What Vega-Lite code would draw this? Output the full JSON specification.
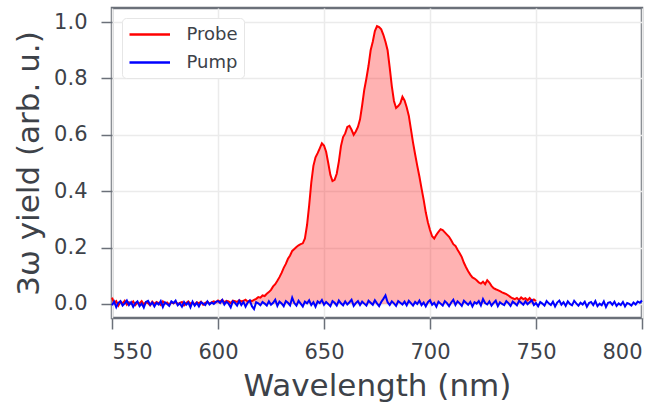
{
"$schema": "https://vega.github.io/schema/vega-lite/v6.json",
"autosize": {"type": "none"},
"width": 530,
"height": 310,
"padding": {"left": 112, "top": 8, "right": 23, "bottom": 87},
"datasets": {
"probe": [
{"w":550,"y":0.022},{"w":551,"y":0.004},{"w":552,"y":0.010},{"w":553,"y":-0.006},{"w":554,"y":0.008},{"w":555,"y":0.002},{"w":556,"y":0.011},{"w":557,"y":-0.003},{"w":558,"y":0.006},{"w":559,"y":0.001},
{"w":560,"y":0.009},{"w":561,"y":-0.004},{"w":562,"y":0.005},{"w":563,"y":0.002},{"w":564,"y":0.010},{"w":565,"y":-0.002},{"w":566,"y":0.006},{"w":567,"y":0.003},{"w":568,"y":-0.005},{"w":569,"y":0.008},
{"w":570,"y":0.000},{"w":571,"y":0.007},{"w":572,"y":0.003},{"w":573,"y":-0.004},{"w":574,"y":0.009},{"w":575,"y":0.001},{"w":576,"y":0.005},{"w":577,"y":-0.003},{"w":578,"y":0.006},{"w":579,"y":0.002},
{"w":580,"y":0.008},{"w":581,"y":-0.001},{"w":582,"y":0.004},{"w":583,"y":0.007},{"w":584,"y":-0.005},{"w":585,"y":0.003},{"w":586,"y":0.009},{"w":587,"y":0.000},{"w":588,"y":0.005},{"w":589,"y":-0.002},
{"w":590,"y":0.006},{"w":591,"y":0.002},{"w":592,"y":0.008},{"w":593,"y":-0.003},{"w":594,"y":0.004},{"w":595,"y":0.007},{"w":596,"y":0.001},{"w":597,"y":0.005},{"w":598,"y":0.009},{"w":599,"y":0.006},
{"w":600,"y":0.012},{"w":601,"y":0.008},{"w":602,"y":0.014},{"w":603,"y":0.006},{"w":604,"y":0.011},{"w":605,"y":0.009},{"w":606,"y":0.003},{"w":607,"y":0.012},{"w":608,"y":0.010},{"w":609,"y":0.007},
{"w":610,"y":0.013},{"w":611,"y":0.009},{"w":612,"y":0.011},{"w":613,"y":0.015},{"w":614,"y":0.008},{"w":615,"y":0.012},{"w":616,"y":0.010},{"w":617,"y":0.014},
{"w":618,"y":0.018},{"w":619,"y":0.024},{"w":620,"y":0.022},{"w":621,"y":0.030},{"w":622,"y":0.028},{"w":623,"y":0.036},{"w":624,"y":0.042},{"w":625,"y":0.050},{"w":626,"y":0.062},{"w":627,"y":0.070},
{"w":628,"y":0.082},{"w":629,"y":0.095},{"w":630,"y":0.110},{"w":631,"y":0.128},{"w":632,"y":0.142},{"w":633,"y":0.160},{"w":634,"y":0.172},{"w":635,"y":0.188},{"w":636,"y":0.195},{"w":637,"y":0.202},
{"w":638,"y":0.208},{"w":639,"y":0.212},{"w":640,"y":0.215},{"w":641,"y":0.232},{"w":642,"y":0.280},{"w":643,"y":0.350},{"w":644,"y":0.430},{"w":645,"y":0.490},{"w":646,"y":0.520},{"w":647,"y":0.535},
{"w":648,"y":0.552},{"w":649,"y":0.570},{"w":650,"y":0.562},{"w":651,"y":0.540},{"w":652,"y":0.500},{"w":653,"y":0.458},{"w":654,"y":0.436},{"w":655,"y":0.440},{"w":656,"y":0.462},{"w":657,"y":0.505},
{"w":658,"y":0.560},{"w":659,"y":0.592},{"w":660,"y":0.605},{"w":661,"y":0.628},{"w":662,"y":0.632},{"w":663,"y":0.618},{"w":664,"y":0.600},{"w":665,"y":0.612},{"w":666,"y":0.628},{"w":667,"y":0.655},
{"w":668,"y":0.705},{"w":669,"y":0.760},{"w":670,"y":0.800},{"w":671,"y":0.845},{"w":672,"y":0.900},{"w":673,"y":0.930},{"w":674,"y":0.968},{"w":675,"y":0.986},{"w":676,"y":0.982},{"w":677,"y":0.974},
{"w":678,"y":0.955},{"w":679,"y":0.930},{"w":680,"y":0.900},{"w":681,"y":0.838},{"w":682,"y":0.772},{"w":683,"y":0.720},{"w":684,"y":0.695},{"w":685,"y":0.702},{"w":686,"y":0.712},{"w":687,"y":0.735},
{"w":688,"y":0.722},{"w":689,"y":0.698},{"w":690,"y":0.668},{"w":691,"y":0.620},{"w":692,"y":0.572},{"w":693,"y":0.530},{"w":694,"y":0.490},{"w":695,"y":0.452},{"w":696,"y":0.410},{"w":697,"y":0.370},
{"w":698,"y":0.325},{"w":699,"y":0.290},{"w":700,"y":0.262},{"w":701,"y":0.240},{"w":702,"y":0.232},{"w":703,"y":0.245},{"w":704,"y":0.256},{"w":705,"y":0.265},{"w":706,"y":0.262},{"w":707,"y":0.254},
{"w":708,"y":0.246},{"w":709,"y":0.238},{"w":710,"y":0.226},{"w":711,"y":0.212},{"w":712,"y":0.206},{"w":713,"y":0.192},{"w":714,"y":0.180},{"w":715,"y":0.166},{"w":716,"y":0.146},{"w":717,"y":0.130},
{"w":718,"y":0.116},{"w":719,"y":0.104},{"w":720,"y":0.094},{"w":721,"y":0.090},{"w":722,"y":0.084},{"w":723,"y":0.076},{"w":724,"y":0.072},{"w":725,"y":0.079},{"w":726,"y":0.070},{"w":727,"y":0.084},
{"w":728,"y":0.076},{"w":729,"y":0.064},{"w":730,"y":0.056},{"w":731,"y":0.052},{"w":732,"y":0.049},{"w":733,"y":0.045},{"w":734,"y":0.041},{"w":735,"y":0.038},{"w":736,"y":0.035},{"w":737,"y":0.030},
{"w":738,"y":0.024},{"w":739,"y":0.020},{"w":740,"y":0.017},{"w":741,"y":0.021},{"w":742,"y":0.014},{"w":743,"y":0.023},{"w":744,"y":0.017},{"w":745,"y":0.020},{"w":746,"y":0.013},{"w":747,"y":0.021},
{"w":748,"y":0.011},{"w":749,"y":0.016},{"w":750,"y":0.010}
],
"pump": [
{"w":550,"y":-0.005},{"w":551,"y":0.008},{"w":552,"y":-0.012},{"w":553,"y":0.004},{"w":554,"y":0.010},{"w":555,"y":-0.006},{"w":556,"y":0.002},{"w":557,"y":0.012},{"w":558,"y":-0.004},{"w":559,"y":0.006},
{"w":560,"y":-0.010},{"w":561,"y":0.003},{"w":562,"y":0.009},{"w":563,"y":-0.008},{"w":564,"y":0.001},{"w":565,"y":-0.013},{"w":566,"y":0.007},{"w":567,"y":0.011},{"w":568,"y":-0.003},{"w":569,"y":0.005},
{"w":570,"y":-0.009},{"w":571,"y":0.004},{"w":572,"y":-0.002},{"w":573,"y":0.010},{"w":574,"y":-0.011},{"w":575,"y":0.006},{"w":576,"y":0.000},{"w":577,"y":-0.007},{"w":578,"y":0.009},{"w":579,"y":0.003},
{"w":580,"y":0.012},{"w":581,"y":-0.005},{"w":582,"y":0.002},{"w":583,"y":-0.010},{"w":584,"y":0.007},{"w":585,"y":-0.003},{"w":586,"y":0.005},{"w":587,"y":-0.012},{"w":588,"y":0.008},{"w":589,"y":-0.006},
{"w":590,"y":0.004},{"w":591,"y":-0.009},{"w":592,"y":0.006},{"w":593,"y":0.001},{"w":594,"y":-0.004},{"w":595,"y":0.009},{"w":596,"y":-0.002},{"w":597,"y":0.005},{"w":598,"y":0.000},{"w":599,"y":0.007},
{"w":600,"y":0.010},{"w":601,"y":0.003},{"w":602,"y":0.014},{"w":603,"y":-0.002},{"w":604,"y":0.008},{"w":605,"y":0.001},{"w":606,"y":-0.012},{"w":607,"y":0.009},{"w":608,"y":0.004},{"w":609,"y":-0.006},
{"w":610,"y":0.011},{"w":611,"y":-0.004},{"w":612,"y":0.007},{"w":613,"y":-0.010},{"w":614,"y":0.005},{"w":615,"y":0.012},{"w":616,"y":-0.008},{"w":617,"y":-0.018},{"w":618,"y":0.006},{"w":619,"y":0.002},
{"w":620,"y":-0.005},{"w":621,"y":0.007},{"w":622,"y":0.001},{"w":623,"y":-0.006},{"w":624,"y":0.009},{"w":625,"y":-0.003},{"w":626,"y":0.004},{"w":627,"y":0.015},{"w":628,"y":-0.007},{"w":629,"y":0.008},
{"w":630,"y":0.002},{"w":631,"y":-0.008},{"w":632,"y":0.010},{"w":633,"y":0.004},{"w":634,"y":-0.005},{"w":635,"y":0.022},{"w":636,"y":0.003},{"w":637,"y":-0.006},{"w":638,"y":0.011},{"w":639,"y":0.001},
{"w":640,"y":-0.009},{"w":641,"y":0.008},{"w":642,"y":0.002},{"w":643,"y":0.013},{"w":644,"y":-0.004},{"w":645,"y":0.006},{"w":646,"y":-0.010},{"w":647,"y":0.009},{"w":648,"y":0.003},{"w":649,"y":0.014},
{"w":650,"y":-0.003},{"w":651,"y":0.007},{"w":652,"y":0.000},{"w":653,"y":-0.008},{"w":654,"y":0.010},{"w":655,"y":0.004},{"w":656,"y":-0.006},{"w":657,"y":0.012},{"w":658,"y":0.002},{"w":659,"y":-0.005},
{"w":660,"y":0.009},{"w":661,"y":-0.002},{"w":662,"y":0.006},{"w":663,"y":0.015},{"w":664,"y":-0.007},{"w":665,"y":0.003},{"w":666,"y":0.010},{"w":667,"y":-0.004},{"w":668,"y":0.008},{"w":669,"y":0.001},
{"w":670,"y":-0.006},{"w":671,"y":0.011},{"w":672,"y":0.004},{"w":673,"y":-0.003},{"w":674,"y":0.013},{"w":675,"y":0.002},{"w":676,"y":-0.008},{"w":677,"y":0.007},{"w":678,"y":0.018},{"w":679,"y":0.030},
{"w":680,"y":0.006},{"w":681,"y":-0.004},{"w":682,"y":0.009},{"w":683,"y":0.002},{"w":684,"y":-0.007},{"w":685,"y":0.010},{"w":686,"y":0.004},{"w":687,"y":-0.002},{"w":688,"y":0.008},{"w":689,"y":-0.005},
{"w":690,"y":0.011},{"w":691,"y":0.003},{"w":692,"y":-0.006},{"w":693,"y":0.007},{"w":694,"y":0.000},{"w":695,"y":0.012},{"w":696,"y":-0.004},{"w":697,"y":0.005},{"w":698,"y":-0.009},{"w":699,"y":0.006},
{"w":700,"y":0.013},{"w":701,"y":-0.003},{"w":702,"y":0.004},{"w":703,"y":-0.010},{"w":704,"y":0.008},{"w":705,"y":0.001},{"w":706,"y":-0.006},{"w":707,"y":0.010},{"w":708,"y":0.003},{"w":709,"y":-0.008},
{"w":710,"y":0.005},{"w":711,"y":0.015},{"w":712,"y":-0.004},{"w":713,"y":0.009},{"w":714,"y":0.002},{"w":715,"y":-0.007},{"w":716,"y":0.011},{"w":717,"y":0.004},{"w":718,"y":-0.003},{"w":719,"y":0.007},
{"w":720,"y":-0.009},{"w":721,"y":0.006},{"w":722,"y":0.001},{"w":723,"y":0.010},{"w":724,"y":-0.005},{"w":725,"y":0.017},{"w":726,"y":0.003},{"w":727,"y":-0.002},{"w":728,"y":0.009},{"w":729,"y":-0.006},
{"w":730,"y":0.004},{"w":731,"y":0.012},{"w":732,"y":-0.008},{"w":733,"y":0.006},{"w":734,"y":0.000},{"w":735,"y":-0.004},{"w":736,"y":0.010},{"w":737,"y":0.003},{"w":738,"y":-0.007},{"w":739,"y":0.008},
{"w":740,"y":0.002},{"w":741,"y":-0.005},{"w":742,"y":0.011},{"w":743,"y":0.004},{"w":744,"y":-0.003},{"w":745,"y":0.009},{"w":746,"y":-0.001},{"w":747,"y":0.006},{"w":748,"y":0.013},{"w":749,"y":-0.004},
{"w":750,"y":0.003},{"w":751,"y":-0.008},{"w":752,"y":0.007},{"w":753,"y":0.001},{"w":754,"y":-0.006},{"w":755,"y":0.010},{"w":756,"y":0.002},{"w":757,"y":-0.004},{"w":758,"y":0.008},{"w":759,"y":-0.009},
{"w":760,"y":0.005},{"w":761,"y":0.012},{"w":762,"y":-0.003},{"w":763,"y":0.006},{"w":764,"y":-0.007},{"w":765,"y":0.009},{"w":766,"y":0.000},{"w":767,"y":-0.005},{"w":768,"y":0.011},{"w":769,"y":0.002},
{"w":770,"y":-0.006},{"w":771,"y":0.004},{"w":772,"y":-0.002},{"w":773,"y":0.008},{"w":774,"y":-0.010},{"w":775,"y":0.003},{"w":776,"y":0.007},{"w":777,"y":-0.004},{"w":778,"y":0.010},{"w":779,"y":-0.008},
{"w":780,"y":0.001},{"w":781,"y":-0.005},{"w":782,"y":0.009},{"w":783,"y":-0.011},{"w":784,"y":0.004},{"w":785,"y":0.006},{"w":786,"y":-0.003},{"w":787,"y":0.008},{"w":788,"y":-0.007},{"w":789,"y":0.002},
{"w":790,"y":-0.004},{"w":791,"y":0.007},{"w":792,"y":-0.009},{"w":793,"y":0.003},{"w":794,"y":0.000},{"w":795,"y":-0.006},{"w":796,"y":0.005},{"w":797,"y":-0.002},{"w":798,"y":0.008},{"w":799,"y":0.004},
{"w":800,"y":0.012}
]
},
"layer": [
{
"data": {"name": "probe"},
"mark": {"type": "area", "color": "#ff0000", "opacity": 0.3},
"encoding": {
"x": {"field": "w", "type": "quantitative"},
"y": {"field": "y", "type": "quantitative"},
"y2": {"datum": 0}
}
},
{
"data": {"name": "probe"},
"mark": {"type": "line", "strokeWidth": 2},
"encoding": {
"x": {"field": "w", "type": "quantitative"},
"y": {"field": "y", "type": "quantitative"},
"color": {"datum": "Probe"}
}
},
{
"data": {"name": "pump"},
"mark": {"type": "line", "strokeWidth": 2},
"encoding": {
"x": {"field": "w", "type": "quantitative", "scale": {"domain": [550, 800], "nice": false, "zero": false},
"axis": {"values": [550, 600, 650, 700, 750, 800], "title": "Wavelength (nm)", "titlePadding": 9, "labelPadding": 12}},
"y": {"field": "y", "type": "quantitative", "scale": {"domain": [-0.05, 1.05], "nice": false},
"axis": {"values": [0, 0.2, 0.4, 0.6, 0.8, 1.0], "format": ".1f", "title": "3ω yield (arb. u.)", "titlePadding": 8, "labelPadding": 14}},
"color": {"datum": "Pump", "type": "nominal",
"scale": {"domain": ["Probe", "Pump"], "range": ["#ff0000", "#0000ff"]},
"legend": {"title": null, "orient": "none", "legendX": 10, "legendY": 10}}
}
}
],
"config": {
"font": "DejaVu Sans",
"view": {"stroke": "#6b7079", "strokeWidth": 2.5},
"axis": {
"domain": false,
"grid": true,
"gridColor": "#ebebeb",
"gridWidth": 1.5,
"tickColor": "#6b7079",
"tickWidth": 1.5,
"tickSize": 11,
"labelFont": "DejaVu Sans",
"labelFontSize": 21,
"labelColor": "#3d4249",
"titleFont": "DejaVu Sans",
"titleFontSize": 31,
"titleFontWeight": "normal",
"titleColor": "#3d4249"
},
"legend": {
"symbolType": "M-1,0H3.5",
"symbolSize": 324,
"symbolStrokeWidth": 2.5,
"labelOffset": 37.5,
"labelFontSize": 18,
"labelColor": "#3d4249",
"labelFont": "DejaVu Sans",
"rowPadding": 8,
"padding": 6,
"fillColor": "#ffffff",
"strokeColor": "#e6e6e6",
"cornerRadius": 4
}
}
}
